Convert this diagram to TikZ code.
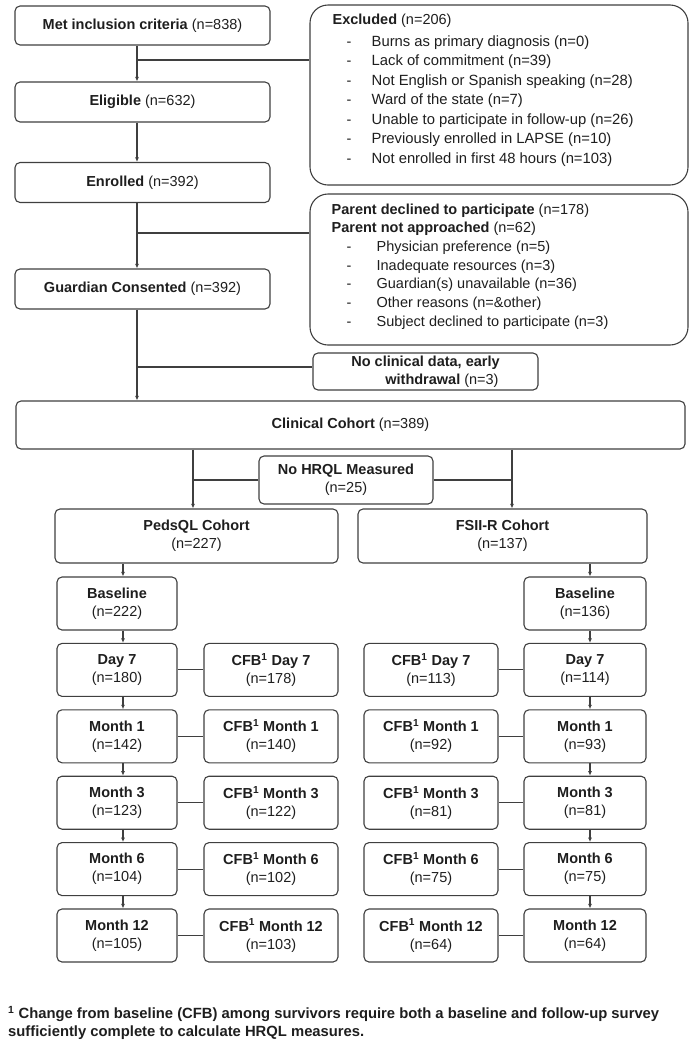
\documentclass[tikz,border=0pt]{standalone}
\usepackage{fontspec}
\setmainfont{Liberation Sans}
\usepackage{xcolor}
\usetikzlibrary{arrows.meta}

\definecolor{linegray}{HTML}{3F3F3F}
\definecolor{textgray}{HTML}{1E1E1E}
\newcommand{\nfont}{\fontsize{14.5}{18}\selectfont}
\newcommand{\dashitem}[1]{\hspace*{14pt}\makebox[25pt][l]{-}#1}
\newcommand{\pitem}[1]{\hspace*{15pt}\makebox[30pt][l]{-}#1}

\begin{document}
\begin{tikzpicture}[x=1pt,y=1pt,text=textgray,
    box/.style={draw=linegray,line width=1.1pt,rounded corners=5pt,align=center,inner sep=0pt,font=\nfont},
    bigbox/.style={draw=linegray,line width=1.1pt,rounded corners=18pt,inner sep=0pt},
    listtext/.style={align=left,inner sep=0pt,anchor=north west},
    arr/.style={draw=linegray,line width=1.1pt,-{Latex[length=4.5pt,width=4pt]}},
    link/.style={draw=linegray,line width=1.1pt}]
    \useasboundingbox (0,0) rectangle (695,-1050);

    % screening column
    \node[box,minimum width=255,minimum height=39] (met) at (142.5,-25.5) {\textbf{Met inclusion criteria} (n=838)};
    \node[box,minimum width=255,minimum height=40] (elig) at (142.5,-102) {\textbf{Eligible} (n=632)};
    \node[box,minimum width=255,minimum height=40] (enrol) at (142.5,-182.5) {\textbf{Enrolled} (n=392)};
    \node[box,minimum width=255,minimum height=40] (guard) at (142.5,-289) {\textbf{Guardian Consented} (n=392)};
    \node[box,minimum width=669,minimum height=48] (clin) at (350.5,-425) {\textbf{Clinical Cohort} (n=389)};

    % exclusion boxes
    \node[bigbox,minimum width=378,minimum height=180] (excl) at (499,-95) {};
    \node[listtext,font=\fontsize{14.5}{19.5}\selectfont] (excltxt) at ([xshift=23pt,yshift=-9pt]excl.north west)
        {\textbf{Excluded} (n=206)\\[2.5pt]
         \dashitem{\fontsize{14.8}{19.5}\selectfont Burns as primary diagnosis (n=0)}\\
         \dashitem{\fontsize{14.8}{19.5}\selectfont Lack of commitment (n=39)}\\
         \dashitem{\fontsize{14.8}{19.5}\selectfont Not English or Spanish speaking (n=28)}\\
         \dashitem{\fontsize{14.8}{19.5}\selectfont Ward of the state (n=7)}\\
         \dashitem{\fontsize{14.8}{19.5}\selectfont Unable to participate in follow-up (n=26)}\\
         \dashitem{\fontsize{14.8}{19.5}\selectfont Previously enrolled in LAPSE (n=10)}\\
         \dashitem{\fontsize{14.8}{19.5}\selectfont Not enrolled in first 48 hours (n=103)}};
    \node[bigbox,minimum width=378,minimum height=151] (parent) at (499,-269.5) {};
    \node[listtext,font=\fontsize{14.5}{18.7}\selectfont] (parenttxt) at ([xshift=22pt,yshift=-10pt]parent.north west)
        {\textbf{Parent declined to participate} (n=178)\\
         \textbf{Parent not approached} (n=62)\\
         \pitem{Physician preference (n=5)}\\
         \pitem{Inadequate resources (n=3)}\\
         \pitem{Guardian(s) unavailable (n=36)}\\
         \pitem{Other reasons (n=\&other)}\\
         \pitem{Subject declined to participate (n=3)}};
    \node[box,minimum width=225,minimum height=37,align=left] (noclin) at (425.5,-371.5)
        {\textbf{No clinical data, early}\\\hspace*{34pt}\textbf{withdrawal} (n=3)};

    \coordinate (mx) at (137,0);
    \draw[arr] (met.south -| mx) -- (elig.north -| mx);
    \draw[arr] (elig.south -| mx) -- (enrol.north -| mx);
    \draw[arr] (enrol.south -| mx) -- (guard.north -| mx);
    \draw[arr] (guard.south -| mx) -- (clin.north -| mx);
    \coordinate (j1) at (137,-60);
    \coordinate (j2) at (137,-233);
    \coordinate (j3) at (137,-367);
    \draw[link] (j1) -- (j1 -| excl.west);
    \draw[link] (j2) -- (j2 -| parent.west);
    \draw[link] (j3) -- (j3 -| noclin.west);

    % cohorts
    \node[box,minimum width=174,minimum height=48] (nohrql) at (346,-480) {\textbf{No HRQL Measured}\\(n=25)};
    \node[box,minimum width=283,minimum height=54] (peds) at (196.5,-536) {\textbf{PedsQL Cohort}\\(n=227)};
    \node[box,minimum width=289,minimum height=54] (fsii) at (502.5,-536) {\textbf{FSII-R Cohort}\\(n=137)};
    \coordinate (pl) at (193,0);
    \coordinate (pr) at (512,0);
    \draw[arr] (clin.south -| pl) -- (peds.north -| pl);
    \draw[arr] (clin.south -| pr) -- (fsii.north -| pr);
    \draw[link] (nohrql.west) -- (nohrql.west -| pl);
    \draw[link] (nohrql.east) -- (nohrql.east -| pr);

    % follow-up rows
    \node[box,minimum width=120,minimum height=53] (L0) at (117,-603.5) {\textbf{Baseline}\\(n=222)};
    \node[box,minimum width=122,minimum height=53] (R0) at (585,-603.5) {\textbf{Baseline}\\(n=136)};
    \coordinate (lx) at (123,0);
    \coordinate (rx) at (590,0);
    \draw[arr] (peds.south -| lx) -- (L0.north -| lx);
    \draw[arr] (fsii.south -| rx) -- (R0.north -| rx);
    \foreach \i/\lbl/\a/\b/\c/\d in {1/Day 7/180/178/113/114,2/Month 1/142/140/92/93,
        3/Month 3/123/122/81/81,4/Month 6/104/102/75/75,5/Month 12/105/103/64/64}{
        \pgfmathtruncatemacro{\p}{\i-1}
        \node[box,minimum width=120,minimum height=53] (L\i) at (117,-603.5-66.4*\i) {\textbf{\lbl}\\(n=\a)};
        \node[box,minimum width=134,minimum height=53] (CL\i) at (271,-603.5-66.4*\i) {\textbf{CFB\textsuperscript{1} \lbl}\\(n=\b)};
        \node[box,minimum width=134,minimum height=53] (CR\i) at (431,-603.5-66.4*\i) {\textbf{CFB\textsuperscript{1} \lbl}\\(n=\c)};
        \node[box,minimum width=122,minimum height=53] (R\i) at (585,-603.5-66.4*\i) {\textbf{\lbl}\\(n=\d)};
        \draw[arr] (L\p.south -| lx) -- (L\i.north -| lx);
        \draw[arr] (R\p.south -| rx) -- (R\i.north -| rx);
        \draw[link] (L\i.east) -- (CL\i.west);
        \draw[link] (CR\i.east) -- (R\i.west);
    }

    % footnote
    \node[listtext,font=\fontsize{14.8}{18}\selectfont\bfseries] (note) at (8,-1006)
        {\textsuperscript{1} Change from baseline (CFB) among survivors require both a baseline and follow-up survey\\
         sufficiently complete to calculate HRQL measures.};
\end{tikzpicture}
\end{document}
